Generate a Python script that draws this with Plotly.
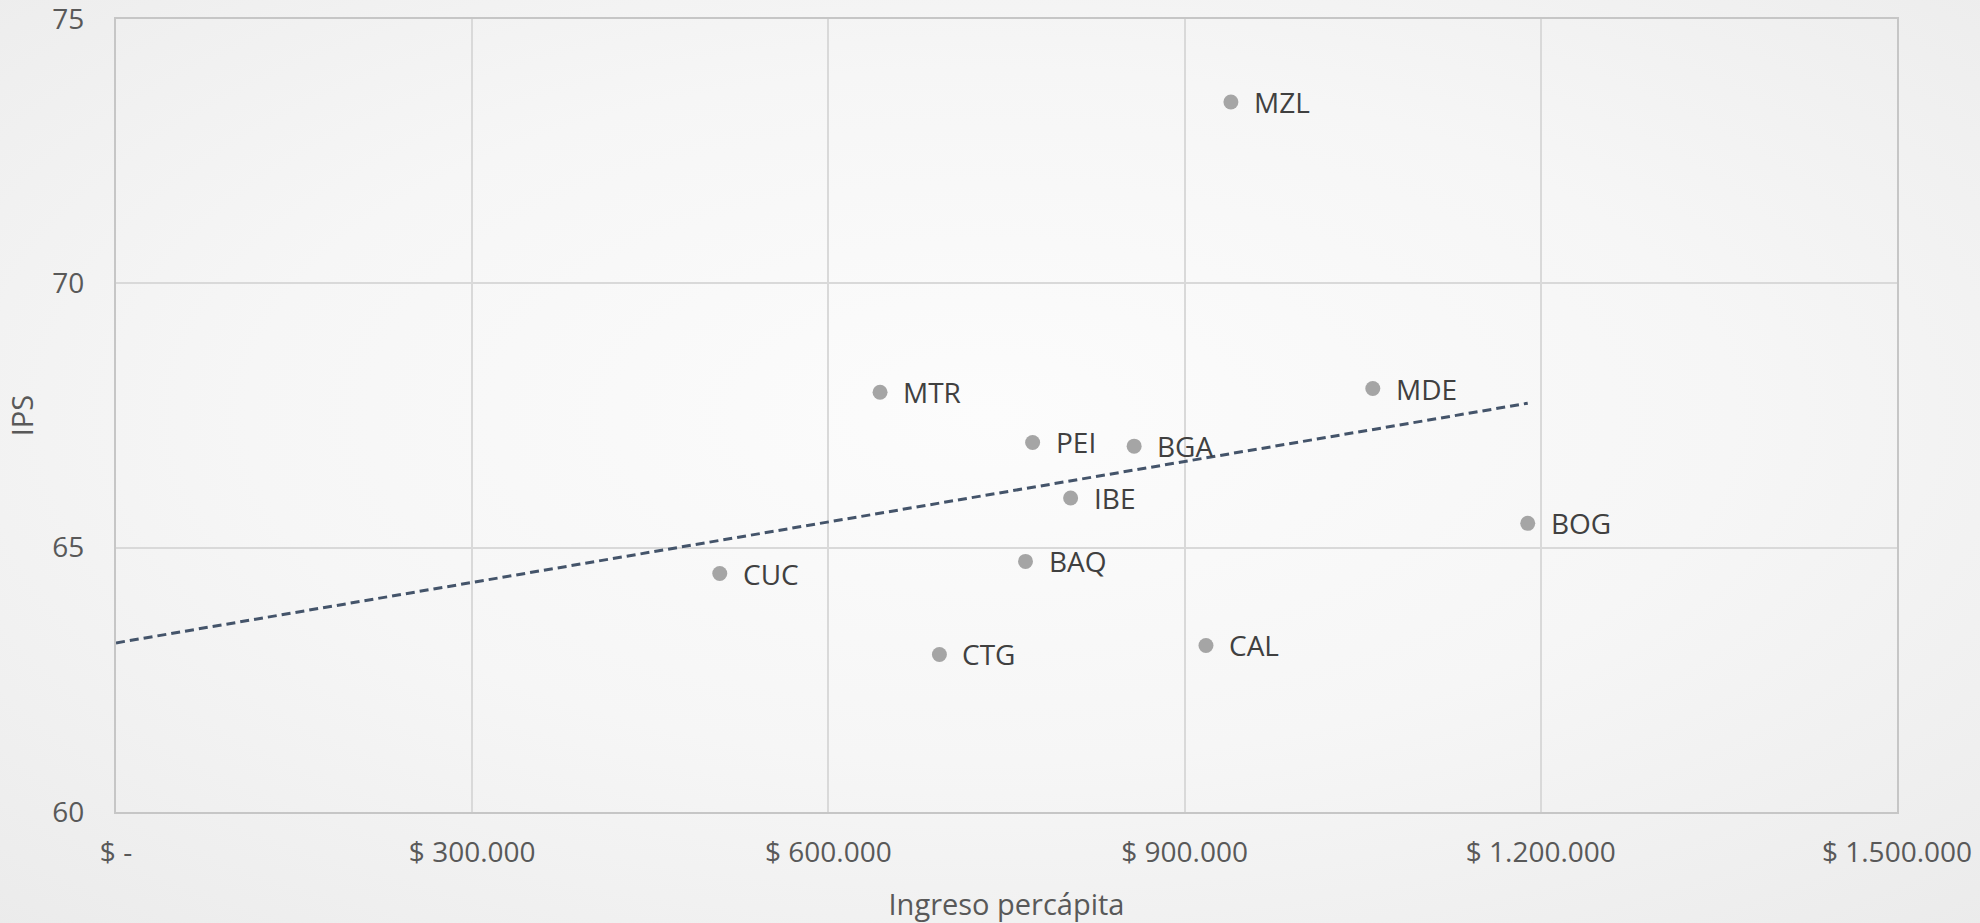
import base64
import numpy as np
import plotly.graph_objects as go

# ---- data ----
cities = ["MZL", "MTR", "PEI", "BGA", "IBE", "MDE", "BOG", "CUC", "BAQ", "CTG", "CAL"]
income = [939000, 643500, 772000, 857500, 804000, 1058500, 1189000, 508500, 766000, 693500, 918000]
ips = [73.43, 67.94, 66.99, 66.92, 65.94, 68.01, 65.46, 64.51, 64.74, 62.98, 63.15]
x_tickvals = [0, 300000, 600000, 900000, 1200000, 1500000]
x_ticktext = ["$ -", "$ 300.000", "$ 600.000", "$ 900.000", "$ 1.200.000", "$ 1.500.000"]
y_tickvals = [60, 65, 70, 75]

# linear trend line (least squares), drawn from 0 to max income
slope, intercept = np.polyfit(income, ips, 1)
trend_x = [0, max(income)]
trend_y = [intercept + slope * v for v in trend_x]

W, H = 1980, 923
ml, mr, mt, mb = 116, 83, 19, 111
pw, ph = W - ml - mr, H - mt - mb

FONT = "Open Sans"
TICK_COLOR = "#595959"
LABEL_COLOR = "#404040"

fig = go.Figure()
fig.add_trace(go.Scatter(
    x=trend_x, y=trend_y, mode="lines",
    line=dict(color="#44546a", width=3, dash="9px,5px"),
    hoverinfo="skip", showlegend=False,
))
fig.add_trace(go.Scatter(
    x=income, y=ips, mode="markers",
    marker=dict(color="#a5a5a5", size=15),
    text=cities, showlegend=False,
))

for c, xv, yv in zip(cities, income, ips):
    fig.add_annotation(
        x=xv, y=yv, text=c, showarrow=False, xanchor="left", yanchor="middle",
        xshift=21, font=dict(family=FONT, size=28, color=LABEL_COLOR),
    )

svg = f"""<svg xmlns='http://www.w3.org/2000/svg' width='{W}' height='{H}'>
<defs><radialGradient id='g' cx='50%' cy='45%' r='75%'>
<stop offset='0' stop-color='#fcfcfc'/><stop offset='0.5' stop-color='#f6f6f6'/><stop offset='1' stop-color='#ebebeb'/>
</radialGradient></defs><rect width='100%' height='100%' fill='url(#g)'/></svg>"""
src = "data:image/svg+xml;base64," + base64.b64encode(svg.encode()).decode()

fig.add_layout_image(dict(
    source=src, xref="paper", yref="paper",
    x=-ml / pw, y=1 + mt / ph, sizex=W / pw, sizey=H / ph,
    sizing="stretch", xanchor="left", yanchor="top", layer="below",
))

fig.update_layout(
    width=W, height=H,
    margin=dict(l=ml, r=mr, t=mt, b=mb, pad=0),
    paper_bgcolor="#f2f2f2", plot_bgcolor="rgba(0,0,0,0)",
    font=dict(family=FONT, size=28, color=TICK_COLOR),
    showlegend=False,
)
fig.update_xaxes(
    range=[0, 1500000], tickvals=x_tickvals, ticktext=x_ticktext,
    showgrid=True, gridcolor="#d9d9d9", gridwidth=1.5,
    showline=True, linecolor="#c6c6c6", linewidth=2, mirror=True,
    zeroline=False, ticks="", ticklabelstandoff=14, ticklabeloverflow="allow",
    tickfont=dict(family=FONT, size=28, color=TICK_COLOR),
    title=dict(text="Ingreso percápita", standoff=26,
               font=dict(family=FONT, size=29, color=TICK_COLOR)),
    automargin=False,
)
fig.update_yaxes(
    range=[60, 75], tickvals=y_tickvals,
    showgrid=True, gridcolor="#d9d9d9", gridwidth=1.5,
    showline=True, linecolor="#c6c6c6", linewidth=2, mirror=True,
    zeroline=False, ticks="", ticklabelstandoff=24, ticklabeloverflow="allow",
    tickfont=dict(family=FONT, size=28, color=TICK_COLOR),
    title=dict(text="IPS", standoff=10,
               font=dict(family=FONT, size=29, color=TICK_COLOR)),
    automargin=False,
)

fig.write_html(
    "out.html",
    config={"displayModeBar": False},
    post_script="document.body.style.margin='0';document.body.style.overflow='hidden';",
)
